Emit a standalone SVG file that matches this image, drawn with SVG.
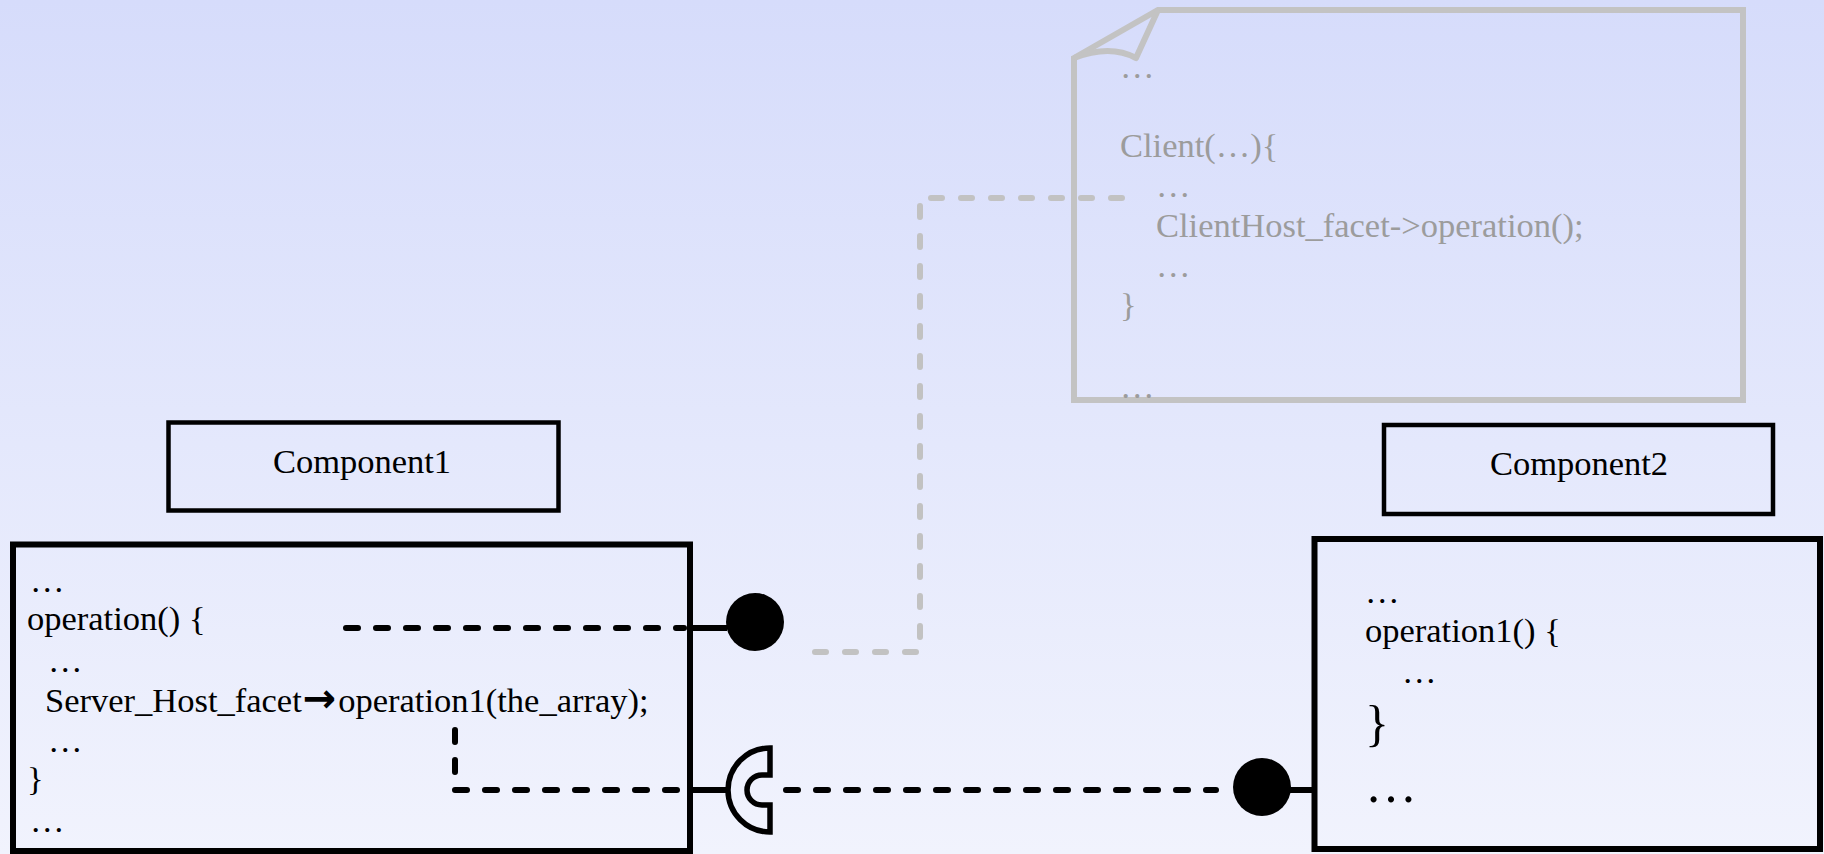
<svg xmlns="http://www.w3.org/2000/svg" width="1824" height="854" viewBox="0 0 1824 854">
  <defs>
    <linearGradient id="bg" x1="0" y1="0" x2="0" y2="1">
      <stop offset="0" stop-color="#d6dcfb"/>
      <stop offset="1" stop-color="#f1f3fd"/>
    </linearGradient>
    <style>
      .t { font-family: "Liberation Serif", "Times New Roman", "DejaVu Serif", serif; font-size: 34.5px; fill: #000; }
      .g { fill: #9c9c9c; }
      .title { text-anchor: middle; }
      .box { fill: none; stroke: #000; stroke-width: 6; }
      .tbox { fill: none; stroke: #000; stroke-width: 4.5; }
      .dash { fill: none; stroke: #000; stroke-width: 6; stroke-dasharray: 12 18; stroke-linecap: round; stroke-linejoin: round; }
      .gdash { fill: none; stroke: #c2c2c2; stroke-width: 6; stroke-dasharray: 11 19; stroke-linecap: round; stroke-linejoin: round; }
      .solid { fill: none; stroke: #000; stroke-width: 6; }
      .arrow { font-family: "DejaVu Sans", sans-serif; font-weight: bold; font-size: 40px; }
    </style>
  </defs>

  <rect x="0" y="0" width="1824" height="854" fill="url(#bg)"/>

  <!-- note with folded corner -->
  <g id="note-client" font-family="Liberation Serif, serif">
    <path d="M1074,58 L1158,10 H1743 V400 H1074 Z" fill="none" stroke="#c3c3c3" stroke-width="6" stroke-linejoin="miter"/>
    <path d="M1074,58 Q1110,44 1136,58 L1158,10" fill="none" stroke="#c3c3c3" stroke-width="6" stroke-linejoin="round"/>
    <text class="t g" x="1120" y="78">…</text>
    <text class="t g" x="1120" y="157">Client(…){</text>
    <text class="t g" x="1156" y="197">…</text>
    <text class="t g" x="1156" y="237">ClientHost_facet-&gt;operation();</text>
    <text class="t g" x="1156" y="277">…</text>
    <text class="t g" x="1120" y="316">}</text>
    <text class="t g" x="1120" y="398">…</text>
  </g>

  <!-- Component1 -->
  <g id="component1-title" font-family="Liberation Serif, serif">
    <rect class="tbox" x="168.5" y="422.5" width="390" height="88"/>
    <text class="t title" x="362" y="473">Component1</text>
  </g>
  <g id="component1" font-family="Liberation Serif, serif">
    <rect class="box" x="13" y="544.5" width="677" height="306.5"/>
    <text class="t" x="30" y="592">…</text>
    <text class="t" x="27" y="630">operation() {</text>
    <text class="t" x="48" y="672">…</text>
    <text class="t" x="45" y="712">Server_Host_facet<tspan class="arrow" dx="1">→</tspan><tspan dx="2">operation1(the_array);</tspan></text>
    <text class="t" x="48" y="752">…</text>
    <text class="t" x="27" y="790">}</text>
    <text class="t" x="30" y="832">…</text>
  </g>

  <!-- Component2 -->
  <g id="component2-title" font-family="Liberation Serif, serif">
    <rect class="tbox" x="1384" y="425" width="389" height="89"/>
    <text class="t title" x="1579" y="475">Component2</text>
  </g>
  <g id="component2" font-family="Liberation Serif, serif">
    <rect class="box" x="1314.5" y="539" width="505.5" height="310"/>
    <text class="t" x="1365" y="603">…</text>
    <text class="t" x="1365" y="642">operation1() {</text>
    <text class="t" x="1402" y="683">…</text>
    <text class="t" x="1365" y="740" style="font-size:50px">}</text>
    <text class="t" x="1365" y="802" style="font-size:52px">…</text>
  </g>

  <!-- ports: provided (ball) and required (socket) interfaces -->
  <g id="port-provided-c1">
    <circle cx="755" cy="622" r="29" fill="#000"/>
  </g>
  <g id="port-required-c1">
    <path d="M770,748 A42,42 0 0 0 770,832 V805 H762 A15,15 0 0 1 762,775 H770 Z" fill="none" stroke="#000" stroke-width="5.5" stroke-linejoin="miter"/>
  </g>
  <g id="port-provided-c2">
    <circle cx="1262" cy="787" r="29" fill="#000"/>
  </g>

  <!-- connectors -->
  <g id="connectors">
    <line class="solid" x1="690" y1="628" x2="727" y2="628"/>
    <line class="solid" x1="690" y1="790" x2="729" y2="790"/>
    <line class="solid" x1="1290" y1="790" x2="1314" y2="790"/>
    <path class="dash" d="M346,628 H684"/>
    <path class="dash" d="M455,730 V790 H684"/>
    <path class="dash" d="M786,790 H1216"/>
    <path class="gdash" d="M1122,198 H920 V652 H808"/>
  </g>
</svg>
